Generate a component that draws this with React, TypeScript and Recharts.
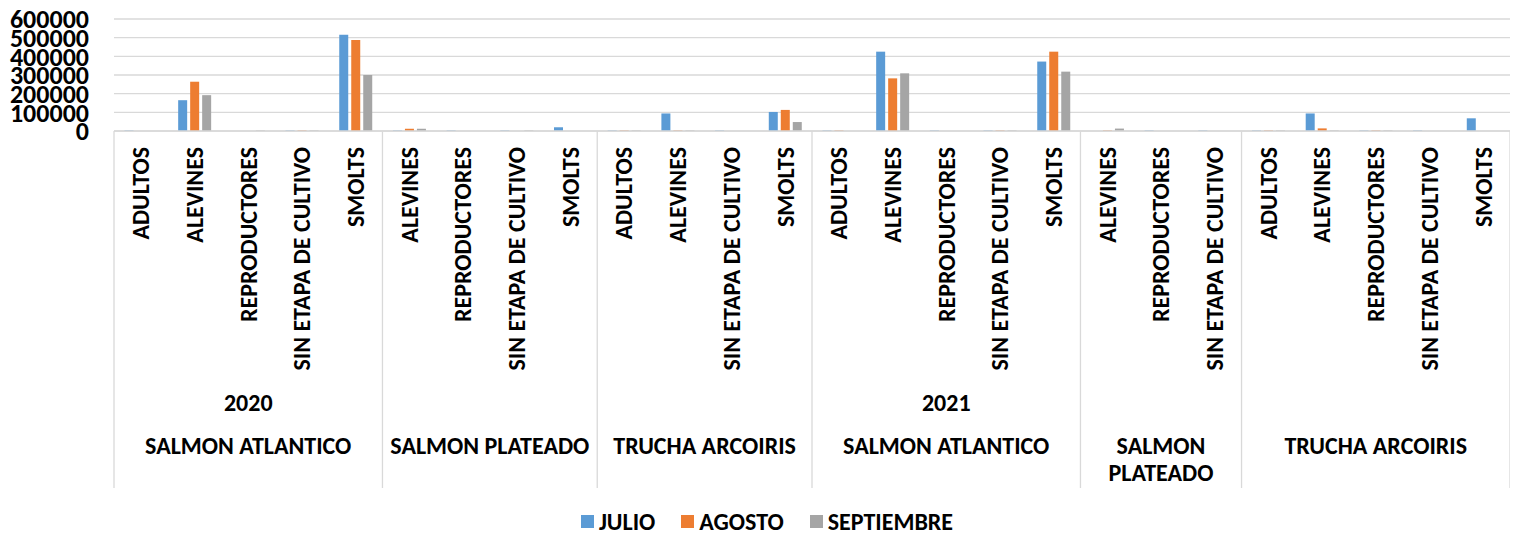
import React from 'react';
import { BarChart, Bar, XAxis, YAxis, CartesianGrid, Legend } from 'recharts';

const FONT = 'Carlito, Calibri, Lato, sans-serif';

const categoryYears = [
  '2020', '2020', '2020', '2020', '2020', '2020', '2020', '2020', '2020', '2020', '2020', '2020', '2020',
  '2021', '2021', '2021', '2021', '2021', '2021', '2021', '2021', '2021', '2021', '2021', '2021', '2021',
];

const categorySpecies = [
  'SALMON ATLANTICO', 'SALMON ATLANTICO', 'SALMON ATLANTICO', 'SALMON ATLANTICO', 'SALMON ATLANTICO',
  'SALMON PLATEADO', 'SALMON PLATEADO', 'SALMON PLATEADO', 'SALMON PLATEADO',
  'TRUCHA ARCOIRIS', 'TRUCHA ARCOIRIS', 'TRUCHA ARCOIRIS', 'TRUCHA ARCOIRIS',
  'SALMON ATLANTICO', 'SALMON ATLANTICO', 'SALMON ATLANTICO', 'SALMON ATLANTICO', 'SALMON ATLANTICO',
  'SALMON PLATEADO', 'SALMON PLATEADO', 'SALMON PLATEADO',
  'TRUCHA ARCOIRIS', 'TRUCHA ARCOIRIS', 'TRUCHA ARCOIRIS', 'TRUCHA ARCOIRIS', 'TRUCHA ARCOIRIS',
];

const categoryStages = [
  'ADULTOS', 'ALEVINES', 'REPRODUCTORES', 'SIN ETAPA DE CULTIVO', 'SMOLTS',
  'ALEVINES', 'REPRODUCTORES', 'SIN ETAPA DE CULTIVO', 'SMOLTS',
  'ADULTOS', 'ALEVINES', 'SIN ETAPA DE CULTIVO', 'SMOLTS',
  'ADULTOS', 'ALEVINES', 'REPRODUCTORES', 'SIN ETAPA DE CULTIVO', 'SMOLTS',
  'ALEVINES', 'REPRODUCTORES', 'SIN ETAPA DE CULTIVO',
  'ADULTOS', 'ALEVINES', 'REPRODUCTORES', 'SIN ETAPA DE CULTIVO', 'SMOLTS',
];

const julio = [
  3000, 165000, 0, 3000, 515000,
  3000, 3000, 3000, 20000,
  3000, 94000, 3000, 102000,
  3000, 425000, 3000, 3000, 372000,
  0, 3000, 3000,
  3000, 94000, 3000, 3000, 68000,
];

const agosto = [
  0, 264000, 0, 3000, 488000,
  12000, 0, 0, 0,
  3000, 3000, 0, 113000,
  3000, 282000, 0, 3000, 425000,
  3000, 0, 0,
  3000, 14000, 3000, 0, 0,
];

const septiembre = [
  0, 192000, 3000, 3000, 300000,
  12000, 0, 3000, 0,
  3000, 3000, 0, 48000,
  0, 309000, 0, 3000, 318000,
  13000, 0, 0,
  3000, 3000, 3000, 0, 0,
];

const yTicks = [0, 100000, 200000, 300000, 400000, 500000, 600000];

const seriesNames = ['JULIO', 'AGOSTO', 'SEPTIEMBRE'];
const seriesColors = ['#5B9BD5', '#ED7D31', '#A5A5A5'];

const data = categoryStages.map((stage, i) => ({
  key: String(i),
  stage,
  JULIO: julio[i],
  AGOSTO: agosto[i],
  SEPTIEMBRE: septiembre[i],
}));

const N = categoryStages.length;
const LINE = '#d9d9d9';

function sameGroup(a: number, b: number) {
  return categorySpecies[a] === categorySpecies[b] && categoryYears[a] === categoryYears[b];
}

function CategoryTick(props: any) {
  const { x, y, payload } = props;
  const i: number = props.index ?? payload.index;
  const band: number = payload && payload.offset ? payload.offset * 2 : props.width / N;
  const left = x - band / 2;
  const textStyle = { fontFamily: FONT, fontWeight: 700, fontSize: 24, fill: '#000' };
  const els: React.ReactNode[] = [];
  els.push(
    <text
      key="stage"
      x={x}
      y={y + 16}
      dy="0.35em"
      textAnchor="end"
      transform={`rotate(-90 ${x} ${y + 16})`}
      style={textStyle}
    >
      {categoryStages[i]}
    </text>
  );
  const first = i === 0 || !sameGroup(i, i - 1);
  if (first) {
    let n = 1;
    while (i + n < N && sameGroup(i, i + n)) n++;
    const gcx = left + (n * band) / 2;
    els.push(<line key="l" x1={left} x2={left} y1={y} y2={y + 357} stroke={LINE} strokeWidth={1.3} />);
    const name = categorySpecies[i];
    const lines = n * band < 190 ? name.split(' ') : [name];
    lines.forEach((ln, k) => {
      els.push(
        <text key={'sp' + k} x={gcx} y={y + 315 + k * 27} dy="0.35em" textAnchor="middle" style={textStyle}>
          {ln}
        </text>
      );
    });
    if (i === 0 || categoryYears[i] !== categoryYears[i - 1]) {
      els.push(
        <text key="yr" x={gcx} y={y + 272} dy="0.35em" textAnchor="middle" style={textStyle}>
          {categoryYears[i]}
        </text>
      );
    }
  }
  if (i === N - 1) {
    const right = x + band / 2;
    els.push(<line key="r" x1={right} x2={right} y1={y} y2={y + 357} stroke={LINE} strokeWidth={1.3} />);
  }
  return <g>{els}</g>;
}

function renderLegend() {
  return (
    <div
      style={{
        display: 'flex',
        justifyContent: 'center',
        alignItems: 'center',
        height: 26,
        paddingLeft: 8,
        fontFamily: FONT,
        fontWeight: 700,
        fontSize: 24,
        color: '#000',
      }}
    >
      {seriesNames.map((name, k) => (
        <span
          key={name}
          style={{ display: 'flex', alignItems: 'center', marginRight: k < seriesNames.length - 1 ? 26 : 0 }}
        >
          <span style={{ width: 13, height: 13, background: seriesColors[k], marginRight: 5, display: 'inline-block' }} />
          {name}
        </span>
      ))}
    </div>
  );
}

export default function App() {
  return (
    <div style={{ width: 1510, height: 526 }}>
      <BarChart
        width={1510}
        height={526}
        data={data}
        margin={{ top: 11, right: 8, left: 0, bottom: 0 }}
        barCategoryGap="19.5%"
        barGap={3}
      >
        <CartesianGrid vertical={false} stroke={LINE} strokeWidth={1.3} />
        <XAxis
          dataKey="key"
          interval={0}
          height={377}
          tickLine={false}
          tickSize={0}
          tickMargin={0}
          axisLine={{ stroke: LINE, strokeWidth: 1.3 }}
          tick={<CategoryTick />}
        />
        <YAxis
          width={106}
          domain={[0, 600000]}
          ticks={yTicks}
          interval={0}
          axisLine={false}
          tickLine={false}
          tickSize={0}
          tickMargin={25}
          tick={{ fontFamily: FONT, fontWeight: 700, fontSize: 26, fill: '#000' }}
        />
        <Legend verticalAlign="bottom" content={renderLegend} wrapperStyle={{ width: 1510, left: 0 }} />
        {seriesNames.map((name, k) => (
          <Bar key={name} dataKey={name} fill={seriesColors[k]} isAnimationActive={false} />
        ))}
      </BarChart>
    </div>
  );
}
